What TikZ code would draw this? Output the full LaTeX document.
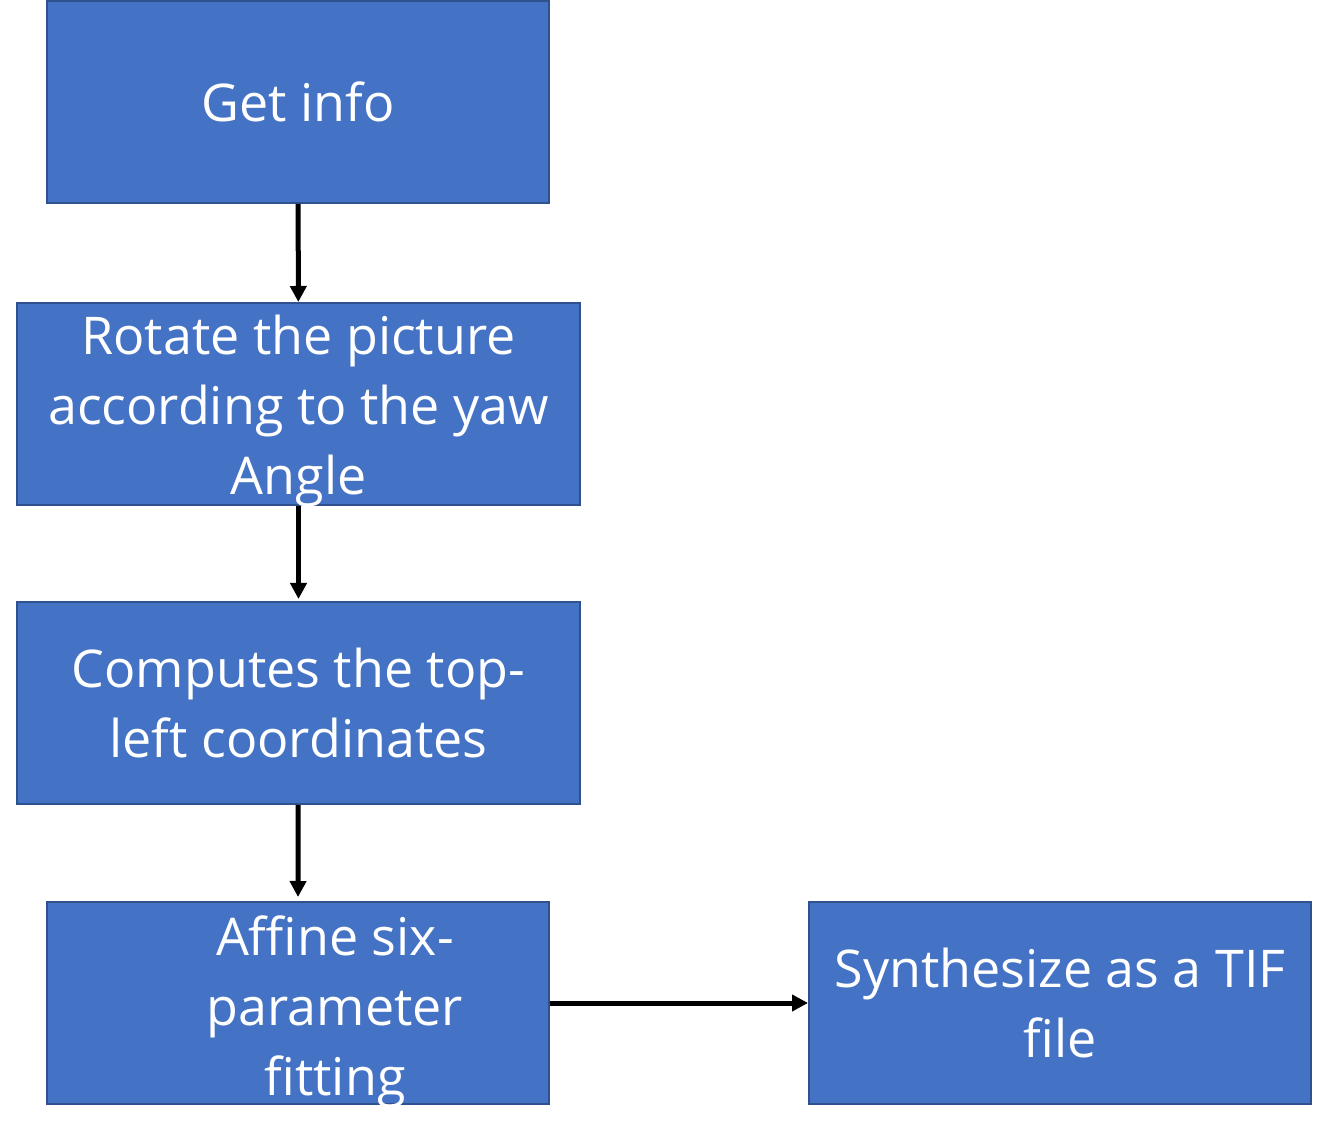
\documentclass[tikz,border=0pt]{standalone}
\usepackage{fontspec}
\setmainfont{Open Sans}
\definecolor{boxblue}{RGB}{68, 114, 196}
\definecolor{edgeblue}{RGB}{47, 82, 143}
\usetikzlibrary{arrows.meta, positioning}
\tikzset{
  stepbox/.style={draw=edgeblue, line width=1pt, fill=boxblue, text=white, align=center,
    minimum height=101pt, inner sep=0pt, font=\fontsize{26}{35}\selectfont},
  flow/.style={line width=2.5pt, -{Triangle[length=8pt, width=8pt]}}
}

\begin{document}
\begin{tikzpicture}[x=0.5pt, y=-0.5pt]
  \useasboundingbox (0, 0) rectangle (1344, 1143);

  % Steps
  \node[stepbox, minimum width=251pt] (info) at (298, 102) {Get info};
  \node[stepbox, minimum width=281.5pt] (rotate) at (298.5, 404) {};
  \node[text=white, align=center, font=\fontsize{26}{35}\selectfont] (rotatetext) at (298.5, 411) {Rotate the picture\\according to the yaw\\Angle};
  \node[stepbox, minimum width=281.5pt] (corner) at (298.5, 703) {Computes the top-\\left coordinates};
  \node[stepbox, minimum width=251pt] (affine) at (298, 1003) {};
  \node[text=white, align=center, font=\fontsize{26}{35}\selectfont] (affinetext) at (335, 1012) {Affine six-\\parameter\\fitting};

  % Output
  \node[stepbox, minimum width=251pt] (tif) at (1060, 1003) {Synthesize as a TIF\\file};

  % Arrows
  \draw[flow] (info) -- (rotate);
  \draw[flow] (rotate) -- ([yshift=1pt]corner.north);
  \draw[flow] (corner) -- ([yshift=2pt]affine.north);
  \draw[flow] (affine) -- (tif);
\end{tikzpicture}
\end{document}
